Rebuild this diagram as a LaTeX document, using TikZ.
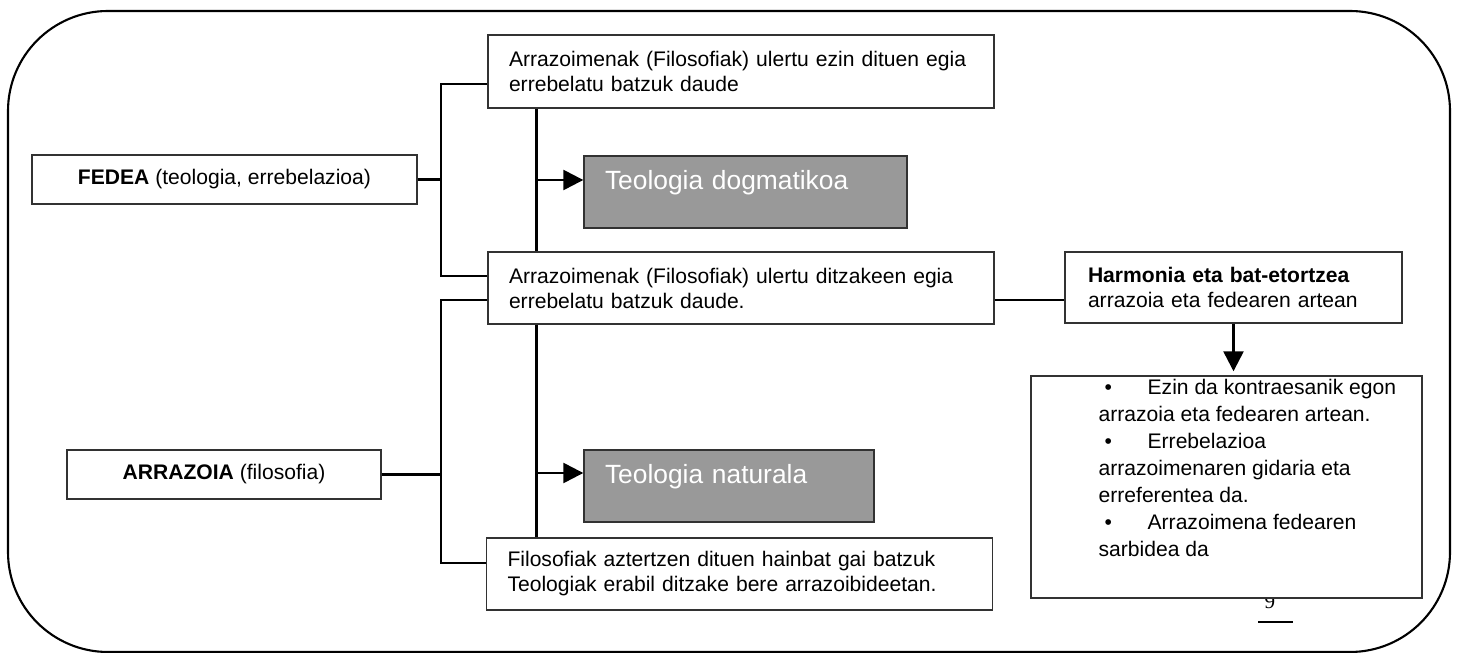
\documentclass[tikz,border=0pt]{standalone}
\usepackage{fontspec}
\setmainfont{Liberation Sans}
\newfontfamily\pagefont{Liberation Serif}
\usetikzlibrary{arrows.meta}
\definecolor{boxgray}{RGB}{153,153,153}
\definecolor{boxline}{RGB}{50,50,50}

\begin{document}
\begin{tikzpicture}

%
% Styles
%
\tikzstyle{frame}   = [line width=1.2pt, rounded corners=2cm]
\tikzstyle{textbox} = [draw=boxline, line width=0.8pt, fill=white, inner sep=0pt, font=\fontsize{12}{14.2}\selectfont]
\tikzstyle{rootbox} = [textbox, minimum height=0.98cm, align=center]
\tikzstyle{claim}   = [textbox, minimum width=10.12cm, minimum height=1.46cm, text width=9.28cm, inner xsep=0.42cm, align=left]
\tikzstyle{theo}    = [draw=boxline, line width=0.8pt, fill=boxgray, text=white, font=\fontsize{15}{18}\selectfont, inner xsep=0.42cm, inner ysep=0pt, text height=0.68cm, text depth=0.76cm, align=left]

\tikzstyle{link}    = [line width=1.4pt]
\tikzstyle{arrow}   = [link, -{Triangle[length=0.4cm, width=0.4cm]}]

\useasboundingbox (0,0) rectangle (29.18,-13.06);
\draw[frame] (0.16,-0.22) rectangle (29.0,-13.04);

\node[rootbox, minimum width=7.7cm]  (fedea)    at ( 4.49, -3.59) {\textbf{FEDEA} (teologia, errebelazioa)};
\node[rootbox, minimum width=6.28cm] (arrazoia) at ( 4.48, -9.49) {\textbf{ARRAZOIA} (filosofia)};

\node[claim]                       (ezin)    at (14.82, -1.43) {Arrazoimenak (Filosofiak) ulertu ezin dituen egia\\errebelatu batzuk daude};
\node[claim, minimum height=1.44cm] (ditzake) at (14.82, -5.76) {Arrazoimenak (Filosofiak) ulertu ditzakeen egia\\errebelatu batzuk daude.};
\node[claim, minimum height=1.44cm] (gaiak)   at (14.79,-11.48) {Filosofiak aztertzen dituen hainbat gai batzuk\\Teologiak erabil ditzake bere arrazoibideetan.};

\node[theo, text width=5.62cm] (dogma)  at (14.91, -3.84) {Teologia dogmatikoa};
\node[theo, text width=4.96cm] (natura) at (14.58, -9.72) {Teologia naturala};

\node[textbox, minimum width=6.74cm, minimum height=1.42cm, text width=5.82cm, inner xsep=0.46cm, align=left]
  (harmonia) at (24.67, -5.75) {\textbf{Harmonia eta bat-etortzea}\\arrazoia eta fedearen artean};

\node[font=\pagefont\fontsize{12}{14}\selectfont, anchor=base, inner sep=0pt] (orria) at (25.4,-12.17) {9};
\draw[line width=1.2pt] (25.16,-12.44) -- (25.86,-12.44);

\node[textbox, minimum width=7.82cm, minimum height=4.44cm] (ondorio) at (24.53, -9.74) {};
\node[anchor=north west, inner sep=0pt, align=left, font=\fontsize{12}{15.3}\selectfont]
  (zerrenda) at ([xshift=1.36cm, yshift=-0.08cm]ondorio.north west)
  {\makebox[0.98cm][l]{\hspace{0.12cm}\textbullet}Ezin da kontraesanik egon\\
   arrazoia eta fedearen artean.\\
   \makebox[0.98cm][l]{\hspace{0.12cm}\textbullet}Errebelazioa\\
   arrazoimenaren gidaria eta\\
   erreferentea da.\\
   \makebox[0.98cm][l]{\hspace{0.12cm}\textbullet}Arrazoimena fedearen\\
   sarbidea da};

% left branches
\coordinate (fedeajunct) at (8.82,-3.59);
\coordinate (arrazjunct) at (8.82,-9.49);
\draw[link] (fedea.east) -- (fedeajunct);
\draw[link] ([yshift=-0.25cm]ezin.west) -| (fedeajunct) |- ([yshift=0.24cm]ditzake.west);
\draw[link] (arrazoia.east) -- (arrazjunct);
\draw[link] ([yshift=-0.24cm]ditzake.west) -| (arrazjunct) |- ([yshift=0.22cm]gaiak.west);

% spine and theology arrows
\coordinate (spine) at ([xshift=0.98cm]ezin.south west);
\coordinate (dogmain) at ([yshift=0.24cm]dogma.west);
\coordinate (naturin) at ([yshift=0.26cm]natura.west);
\draw[link] (spine) -- (spine |- ditzake.north);
\draw[link] (spine |- ditzake.south) -- (spine |- gaiak.north);
\draw[arrow] (spine |- dogmain) -- (dogmain);
\draw[arrow] (spine |- naturin) -- (naturin);

% right side
\coordinate (harmin) at ([yshift=-0.24cm]ditzake.east);
\draw[link] (harmin) -- (harmin -| harmonia.west);
\draw[arrow, shorten >=0.08cm] (harmonia.south) -- (harmonia.south |- ondorio.north);

\end{tikzpicture}
\end{document}
